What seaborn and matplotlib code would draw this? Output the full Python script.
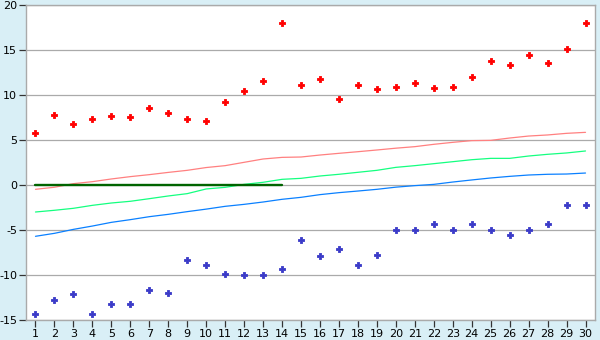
import numpy as np
import pandas as pd
import matplotlib
matplotlib.use("Agg")
import matplotlib.pyplot as plt
import seaborn as sns

x = list(range(1, 31))
upper_points = [5.75, 7.75, 6.75, 7.3, 7.63, 7.52, 8.52, 7.96, 7.3, 7.07,
                9.19, 10.41, 11.52, 18.0, 11.07, 11.74, 9.52, 11.07, 10.63, 10.85,
                11.3, 10.74, 10.85, 11.96, 13.74, 13.3, 14.41, 13.52, 15.07, 18.0]
lower_points = [-14.37, -12.81, -12.15, -14.37, -13.26, -13.26, -11.7, -12.04, -8.37, -8.93,
                -9.93, -10.04, -10.04, -9.37, -6.15, -7.93, -7.15, -8.93, -7.81, -5.04,
                -5.04, -4.37, -5.04, -4.37, -5.04, -5.59, -5.04, -4.37, -2.26, -2.26]
pink_line = [-0.48, -0.25, 0.15, 0.37, 0.67, 0.93, 1.15, 1.4, 1.63, 1.94,
             2.15, 2.52, 2.89, 3.07, 3.11, 3.33, 3.52, 3.7, 3.89, 4.09,
             4.26, 4.52, 4.74, 4.93, 4.96, 5.22, 5.44, 5.56, 5.74, 5.85]
green_line = [-3.0, -2.81, -2.59, -2.26, -2.0, -1.81, -1.52, -1.22, -0.96, -0.44,
              -0.26, 0.07, 0.3, 0.63, 0.74, 1.0, 1.19, 1.41, 1.63, 1.96,
              2.15, 2.37, 2.59, 2.81, 2.96, 2.96, 3.22, 3.41, 3.56, 3.78]
blue_line = [-5.7, -5.37, -4.93, -4.56, -4.15, -3.85, -3.52, -3.26, -2.96, -2.68,
             -2.37, -2.15, -1.89, -1.59, -1.37, -1.07, -0.85, -0.67, -0.48, -0.24,
             -0.07, 0.07, 0.33, 0.56, 0.78, 0.96, 1.11, 1.19, 1.22, 1.33]
zero_x = [1, 14]
zero_y = [0, 0]

y_ticks = [-15, -10, -5, 0, 5, 10, 15, 20]

sns.set_style("white")
plt.rcParams['font.family'] = ['DejaVu Sans']

bg = "#d9eff6"
fig = plt.figure(figsize=(6, 3.4), dpi=100, facecolor=bg)
ax = fig.add_axes([26/600, 1-320/340, (595-26)/600, (320-5)/340])
ax.set_facecolor("white")

for yt in y_ticks:
    ax.axhline(yt, color="#aaaaaa", lw=0.9, zorder=0)

df_lines = pd.DataFrame({"x": x, "pink": pink_line, "green": green_line, "blue": blue_line})
sns.lineplot(data=df_lines, x="x", y="pink", color="#ff8080", lw=0.9, ax=ax)
sns.lineplot(data=df_lines, x="x", y="green", color="#14ff80", lw=0.9, ax=ax)
sns.lineplot(data=df_lines, x="x", y="blue", color="#0a80ff", lw=0.9, ax=ax)
sns.lineplot(x=zero_x, y=zero_y, color="#006400", lw=1.7, ax=ax)

df_pts = pd.DataFrame({"x": x, "up": upper_points, "low": lower_points})
sns.scatterplot(data=df_pts, x="x", y="up", color="#ff0000", marker="P", s=18,
                edgecolor="#ff0000", linewidth=0.6, ax=ax, zorder=5)
sns.scatterplot(data=df_pts, x="x", y="low", color="#3a3ac8", marker="P", s=18,
                edgecolor="#3a3ac8", linewidth=0.6, ax=ax, zorder=5)

ax.set_xlim(0.5, 30.5)
ax.set_ylim(-15, 20)
ax.set_xticks(x)
ax.set_xticklabels([str(v) for v in x])
ax.set_yticks(y_ticks)
ax.set_yticklabels([str(v) for v in y_ticks])
ax.set_xlabel("")
ax.set_ylabel("")
ax.tick_params(axis="both", direction="out", length=5, width=0.9, color="#333333",
               labelsize=8, labelcolor="black", pad=1.5,
               bottom=True, left=True)
for side in ["left", "bottom", "right", "top"]:
    ax.spines[side].set_visible(True)
    ax.spines[side].set_color("#aaaaaa")
    ax.spines[side].set_linewidth(1.0)

fig.savefig("out.png", dpi=100, facecolor=bg)
